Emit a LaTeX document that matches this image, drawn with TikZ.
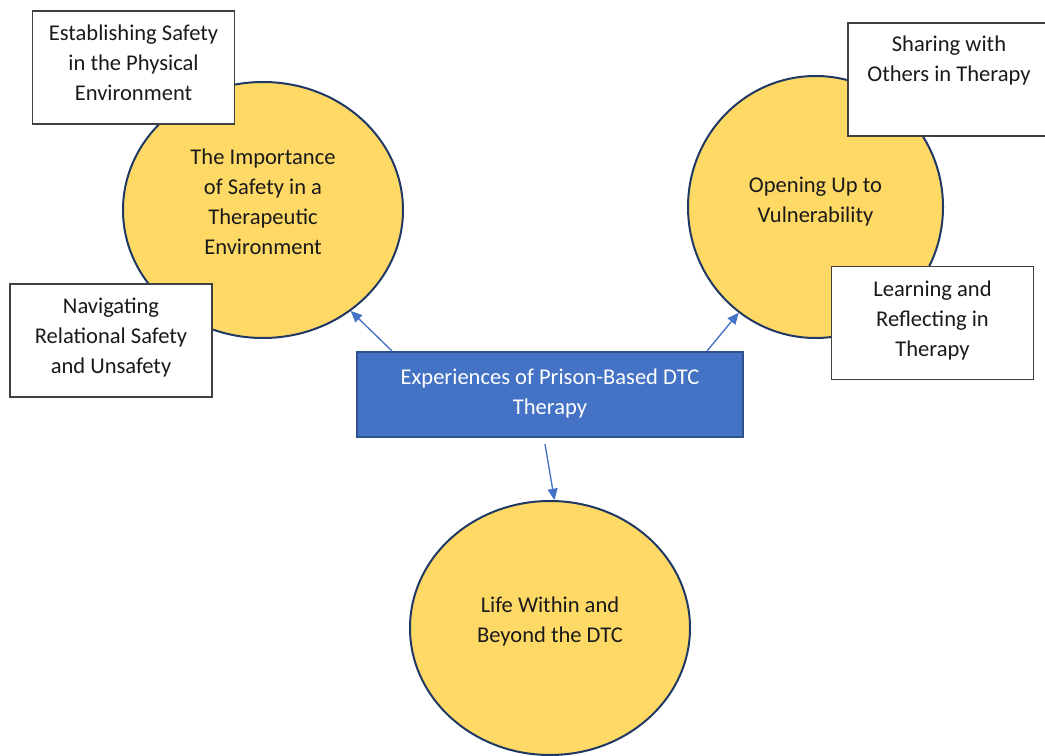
\documentclass[tikz,border=0pt]{standalone}
\usepackage{fontspec}
\setmainfont{Carlito}
\usetikzlibrary{shapes.geometric,arrows.meta,calc}
\definecolor{gold}{HTML}{FFD966}
\definecolor{navy}{HTML}{203864}
\definecolor{blueA}{HTML}{4472C4}
\definecolor{blueB}{HTML}{2F528F}
\definecolor{ink}{HTML}{1A1A1A}
\begin{document}
\begin{tikzpicture}[x=0.75pt,y=-0.75pt,
  txt/.style={align=center,text=ink,font=\fontsize{16.9}{22.5}\selectfont},
  circ/.style={ellipse,draw=navy,line width=1.5pt,fill=gold,inner sep=0pt},
  sbox/.style={rectangle,draw=black!75,line width=0.9pt,fill=white,inner sep=0pt,minimum width=151.5pt,minimum height=84.75pt},
  cbox/.style={rectangle,draw=blueB,line width=1.6pt,fill=blueA,inner sep=0pt,minimum width=289.5pt,minimum height=63.75pt},
  arr/.style={draw=blueA,line width=1pt,-{Triangle[length=8.5pt,width=7.5pt]}}]
\useasboundingbox (0,0) rectangle (1045,756);
% circles
\node[circ,minimum width=210pt,minimum height=192pt,
  label={[txt,yshift=5pt]center:{\strut The Importance\\\strut of Safety in a\\\strut Therapeutic\\\strut Environment}}] (c1) at (263,210) {};
\node[circ,minimum width=191.25pt,minimum height=196.5pt,
  label={[txt,yshift=4.5pt]center:{\strut Opening Up to\\\strut Vulnerability}}] (c2) at (815.5,207) {};
\node[circ,minimum width=210pt,minimum height=190.5pt,
  label={[txt,yshift=5pt]center:{\strut Life Within and\\\strut Beyond the DTC}}] (c3) at (550,628) {};
% sub-theme boxes
\node[sbox,label={[txt,yshift=2.5pt]center:{\strut Establishing Safety\\\strut in the Physical\\\strut Environment}}] (b1) at (133.5,67.5) {};
\node[sbox,label={[txt,yshift=2pt]center:{\strut Navigating\\\strut Relational Safety\\\strut and Unsafety}}] (b2) at (111,340.5) {};
\node[sbox,label={[txt,yshift=14.5pt]center:{\strut Sharing with\\\strut Others in Therapy}}] (b3) at (949,79.5) {};
\node[sbox,label={[txt,yshift=2pt]center:{\strut Learning and\\\strut Reflecting in\\\strut Therapy}}] (b4) at (932.5,323) {};
% central box
\node[cbox,label={[txt,text=white,yshift=1pt]center:{\strut Experiences of Prison-Based DTC\\\strut Therapy}}] (ctr) at (550,394.5) {};
% arrows
\draw[arr] ($(ctr.north west)+(36,0)$) -- (c1.-49.5);
\draw[arr] ($(ctr.north east)+(-37,0)$) -- (c2.-126.8);
\draw[arr] ($(ctr.south)+(-5,6)$) -- (c3.88);
\end{tikzpicture}
\end{document}
